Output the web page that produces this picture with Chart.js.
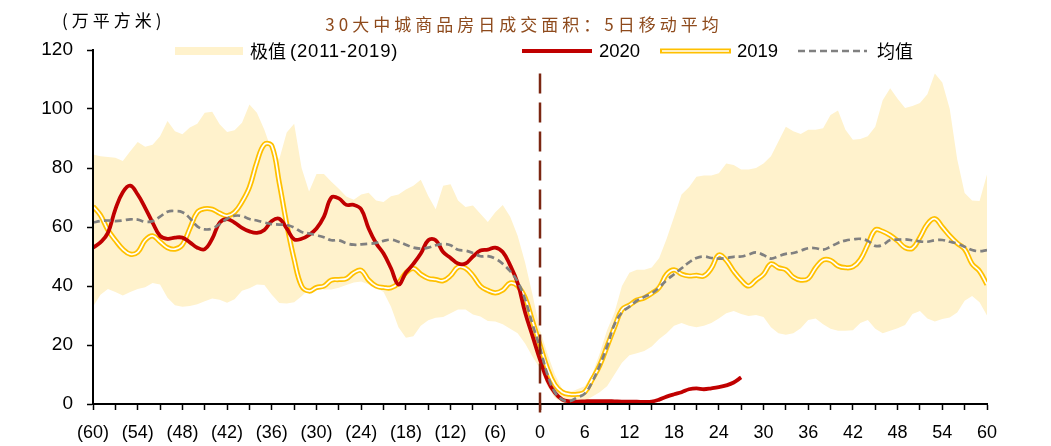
<!DOCTYPE html>
<html lang="zh">
<head>
<meta charset="UTF-8">
<title>30大中城商品房日成交面积</title>
<style>
  body { margin: 0; background: #fff; }
  canvas { display: block; }
</style>
</head>
<body>
<canvas id="chart" width="1051" height="446"></canvas>
<script src="https://cdn.jsdelivr.net/npm/chart.js"></script>
<script>
// 春节前后天数 (-60 .. 60)
const days = [-60,-59,-58,-57,-56,-55,-54,-53,-52,-51,-50,-49,-48,-47,-46,-45,-44,-43,-42,-41,
  -40,-39,-38,-37,-36,-35,-34,-33,-32,-31,-30,-29,-28,-27,-26,-25,-24,-23,-22,-21,
  -20,-19,-18,-17,-16,-15,-14,-13,-12,-11,-10,-9,-8,-7,-6,-5,-4,-3,-2,-1,
  0,1,2,3,4,5,6,7,8,9,10,11,12,13,14,15,16,17,18,19,
  20,21,22,23,24,25,26,27,28,29,30,31,32,33,34,35,36,37,38,39,
  40,41,42,43,44,45,46,47,48,49,50,51,52,53,54,55,56,57,58,59,60];

const xTickLabels = ['(60)','(54)','(48)','(42)','(36)','(30)','(24)','(18)','(12)','(6)',
  '0','6','12','18','24','30','36','42','48','54','60'];

// 极值上沿 (2011-2019)
const bandHigh = [84.6,84,83.7,83.5,82.4,85.7,88.8,87.2,87.9,90.8,95.9,92.5,91.4,93.7,95,98.7,99.1,94.8,92.2,92.8,
  95.3,101.5,98.7,93,85.8,83,92,95,80,72,78,78,75.3,73,70.3,69.2,71,71.6,69,68.5,
  70.4,71,72.7,74,76,70.5,66,74,74.5,69,66.8,67.3,64.5,61.7,65,67.5,63.5,57,48,37,
  25,17,10,5,4,5,6,10,17,25,31,40,44.5,45.5,45.5,46.3,49.5,56,63.5,71,
  73.5,77,77.5,77.5,78.2,81.5,81,79.5,79.5,80,81.5,84,89,94,92.5,91.5,93,93,93.5,98,
  99.5,93,89.6,89.8,90.8,94,103,107,103.5,100.3,101,102,105,112,109,100,83,71.5,69,68.8,77.8];

// 极值下沿 (2011-2019)
const bandLow = [33,37,39,38,36.8,38,39,39.6,41,40.5,36,33.5,33,33.2,33.8,34.8,35.8,35.3,34.3,35.5,
  38.4,39.2,40.5,40.3,37,34.2,34.1,34.5,36.5,39,40,38.8,38.8,39.4,40.3,41.2,41.5,40.5,39.5,38,
  33,26,22.5,23,26.5,28.4,29.2,29.5,30.8,32,32,30.3,29.7,28.1,28,27,25.5,24,20.5,16,
  12,6,2,0.5,0,0.5,1,2.5,4,6,10,14,16.5,17.2,18,19.5,22,24,26.5,27.5,
  26.5,26,26.5,27.5,29,30.8,31.5,30.5,29.8,30.2,29.5,26,24,23.5,24,25.7,28.5,29,27,25.5,
  24.8,24.8,25,27.5,28.5,25.5,24,24.8,25.7,26.8,30.5,31.5,29,28,28.8,29.3,31,35,36.6,34.5,30];

const s2020 = [53,54.8,58,66,71.8,74,71,66.5,61.5,57,56,56.4,56.4,54.8,53,52.5,56,61.5,62.7,61.5,
  59.7,58.5,58,59,62,62.8,59.5,55.8,56,57.3,59.5,63.5,70,69.7,67.5,67.5,66,59.5,54.5,51,
  46,40.5,44.5,47.5,51,55.5,55.5,51.5,49.5,47.6,47.6,50,52,52.3,53,51.5,47,41,31,23,
  15,8,3.8,1.5,0.9,0.8,0.9,1,1,1,0.9,0.8,0.8,0.8,0.7,0.8,1.5,2.5,3.3,4,
  5,5.3,5,5.3,5.7,6.3,7.3,9,null,null,null,null,null,null,null,null,null,null,null,null,
  null,null,null,null,null,null,null,null,null,null,null,null,null,null,null,null,null,null,null,null,null];

const s2019 = [67,64,59,55.5,52.5,50.8,51.5,55.5,57,55,53,52.5,54,59.5,65,66.2,66,64.7,63.8,65,
  68.5,73.5,82,88,87.5,75,61,49,40,38.3,39.5,40,42,42.2,42.5,44.5,45.3,42,40,39.5,
  39.4,41,44.5,46,44,42.6,42.2,41.8,43.5,46.4,46,43.5,40,38.5,37.7,38.6,41,40,36,28,
  20,12,6.5,4,3.3,3.3,4,8.3,13,19.5,26,32,33.5,35.2,36,37.5,39.5,44,45.5,44,
  43.4,43.6,43.4,46,50.5,48.7,45,42,40,42,44,47.5,46.2,45.5,43,42,42.5,46.2,48.8,48.7,
  46.8,46.2,46.5,49,54,59,58.5,57.2,55.3,53,52.8,56.5,61,62.8,60,57,54.5,52.5,47.5,45,40.5];

const sMean = [61.5,62,62.2,62,62.2,62.6,62.5,61.8,62,63.5,65.2,65.4,65,63,60.2,59.2,59.5,61,62.8,63.8,
  63.7,62.7,62.2,61.5,61,60.8,60.7,59.8,58.3,57.8,57.2,56.5,55.5,55.5,54.5,54,54.1,54.3,54.6,55.3,
  55.7,55,54,53,52.7,53,53.8,54.2,53.8,52.3,52,51.2,50.1,50.1,49.3,47.5,45,41.5,35.5,27,
  19,10,4,1.5,1,2.2,3.5,7.5,13,19.5,27,31,33,35,36.3,37.5,39.5,42,44,46,
  48,49.5,50,49.5,49.3,49.5,49.9,50,50.7,51.4,50.5,49.3,50.1,50.9,51.2,52,52.8,52.8,52.3,53.3,
  54.6,55.4,55.8,56,55.3,53.6,53.9,55.6,55.7,55.8,55.5,55.1,55,55.5,55.6,55,54.4,53.3,52.2,51.8,52.2];

const numFont = 'Arial, "Liberation Sans", sans-serif';
const cjkFont = '"Noto Sans CJK SC", "Noto Sans", sans-serif';

// 标题、单位、图例、春节竖线
const decorations = {
  id: 'decorations',
  afterDatasetsDraw(chart) {
    const ctx = chart.ctx;
    const xs = chart.scales.x, ys = chart.scales.y;
    const area = chart.chartArea;
    ctx.save();
    // 坐标轴线压在填充之上
    ctx.strokeStyle = '#000';
    ctx.lineWidth = 2;
    ctx.beginPath();
    ctx.moveTo(area.left, area.top);
    ctx.lineTo(area.left, area.bottom);
    ctx.lineTo(area.right + 1, area.bottom);
    ctx.stroke();
    // 春节当日竖线
    const x0 = xs.getPixelForValue(0);
    ctx.strokeStyle = '#7B2712';
    ctx.lineWidth = 2.5;
    ctx.setLineDash([20, 9]);
    ctx.beginPath();
    ctx.moveTo(x0, ys.getPixelForValue(112));
    ctx.lineTo(x0, ys.bottom + 14);
    ctx.stroke();
    ctx.restore();
  },
  afterDraw(chart) {
    const ctx = chart.ctx;
    ctx.save();
    ctx.textBaseline = 'middle';
    // 标题
    ctx.fillStyle = '#8E4A1C';
    ctx.font = '17px ' + cjkFont;
    ctx.letterSpacing = '4px';
    ctx.textAlign = 'center';
    ctx.fillText('30大中城商品房日成交面积：5日移动平均', 524, 25);
    // 单位
    ctx.fillStyle = '#000';
    ctx.textAlign = 'left';
    ctx.fillText('(万平方米)', 62, 21);
    ctx.letterSpacing = '0px';

    // 图例
    const ly = 51;
    ctx.fillStyle = '#FFF2CC';
    ctx.fillRect(175, ly - 4, 68, 8);
    ctx.lineCap = 'butt';
    ctx.strokeStyle = '#C00000';
    ctx.lineWidth = 4;
    ctx.beginPath(); ctx.moveTo(522, ly); ctx.lineTo(592, ly); ctx.stroke();
    ctx.strokeStyle = '#FFC000';
    ctx.lineWidth = 5;
    ctx.beginPath(); ctx.moveTo(660, ly); ctx.lineTo(731, ly); ctx.stroke();
    ctx.strokeStyle = '#fff';
    ctx.lineWidth = 1.7;
    ctx.beginPath(); ctx.moveTo(662, ly); ctx.lineTo(729, ly); ctx.stroke();
    ctx.strokeStyle = '#808080';
    ctx.lineWidth = 2.6;
    ctx.setLineDash([7, 4]);
    ctx.beginPath(); ctx.moveTo(798, ly); ctx.lineTo(867, ly); ctx.stroke();
    ctx.setLineDash([]);

    ctx.fillStyle = '#000';
    ctx.font = '18px ' + cjkFont;
    ctx.fillText('极值', 250, ly);
    ctx.font = '18.5px ' + numFont;
    ctx.letterSpacing = '0.8px';
    ctx.fillText('(2011-2019)', 290, ly + 1);
    ctx.letterSpacing = '0px';
    ctx.fillText('2020', 599, ly + 1);
    ctx.fillText('2019', 737, ly + 1);
    ctx.font = '18px ' + cjkFont;
    ctx.fillText('均值', 877, ly);
    ctx.restore();
  }
};

const ctx = document.getElementById('chart').getContext('2d');
new Chart(ctx, {
  type: 'line',
  data: {
    labels: days,
    datasets: [
      { label: '均值', data: sMean, borderColor: '#808080', borderWidth: 2.7,
        borderDash: [7, 4], tension: 0.4, order: 1 },
      { label: '2020', data: s2020, borderColor: '#C00000', borderWidth: 3.8,
        tension: 0.4, order: 2 },
      { label: '2019', data: s2019, borderColor: '#FFFFFF', borderWidth: 1.7,
        tension: 0.4, order: 3 },
      { label: '2019边', data: s2019, borderColor: '#FFC000', borderWidth: 5.2,
        tension: 0.4, order: 4 },
      { label: '极值上沿', data: bandHigh, borderWidth: 0, borderColor: 'rgba(0,0,0,0)',
        backgroundColor: '#FFF2CC', fill: 5, tension: 0, order: 5 },
      { label: '极值下沿', data: bandLow, borderWidth: 0, borderColor: 'rgba(0,0,0,0)',
        tension: 0, order: 6 }
    ]
  },
  options: {
    responsive: false,
    animation: false,
    devicePixelRatio: 1,
    elements: { point: { radius: 0 } },
    layout: { padding: { left: 0, right: 64, top: 50, bottom: 0 } },
    plugins: {
      legend: { display: false },
      title: { display: false },
      tooltip: { enabled: false }
    },
    scales: {
      x: {
        type: 'linear',
        min: -60, max: 60,
        afterFit(scale) { scale.height = 42; },
        border: { display: true, color: '#000', width: 2 },
        grid: { drawOnChartArea: false, drawTicks: true, tickLength: 6, color: '#000', tickWidth: 1.5 },
        ticks: {
          stepSize: 3, autoSkip: false, maxRotation: 0, maxTicksLimit: 100,
          padding: 12, color: '#000',
          font: { family: numFont, size: 18 },
          callback: v => (v % 6 === 0 ? xTickLabels[(v + 60) / 6] : '')
        }
      },
      y: {
        min: 0, max: 120,
        afterFit(scale) { scale.width = 93; },
        border: { display: true, color: '#000', width: 2 },
        grid: { drawOnChartArea: false, drawTicks: true, tickLength: 6, color: '#000', tickWidth: 1.5 },
        ticks: { stepSize: 20, padding: 14, color: '#000', font: { family: numFont, size: 19 } }
      }
    }
  },
  plugins: [decorations]
});
</script>
</body>
</html>
